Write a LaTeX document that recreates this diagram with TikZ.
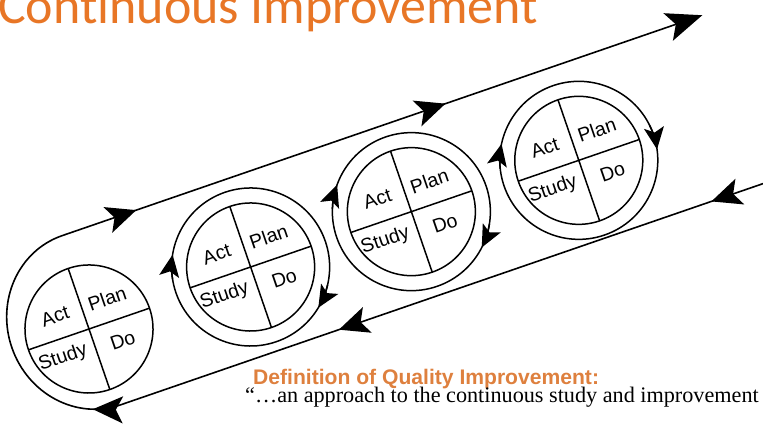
\documentclass[tikz,border=0pt]{standalone}
\usepackage{fontspec}
\setmainfont{Liberation Serif}
\setsansfont{Liberation Sans}
\newfontfamily\titlefont[Ligatures=NoCommon]{Carlito}
\usetikzlibrary{positioning,arrows.meta,decorations.markings}
\definecolor{qiorange}{RGB}{232,118,38}
\definecolor{qihead}{RGB}{222,128,62}

\begin{document}
\begin{tikzpicture}[x=1pt, y=1pt,
                    pdca/.style={circle, draw=black, line width=1.5pt, minimum size=128pt, inner sep=0pt, outer sep=0pt, transform shape},
                    quad/.style={font=\sffamily\fontsize{19.5}{19.5}\selectfont, inner sep=0pt, transform shape},
                    ringline/.style={draw=black, line width=1.5pt},
                    loopline/.style={draw=black, line width=1.6pt},
                    bigtip/.tip={Stealth[length=30pt, width=27pt, inset=7pt]},
                    endtip/.tip={Stealth[length=36pt, width=29pt, inset=8pt]},
                    smalltip/.tip={Stealth[length=22pt, width=20pt, inset=5pt]}
                ]
                    \useasboundingbox (0,0) rectangle (763,427);
                    \clip (0,0) rectangle (763,427);

                    \node[anchor=base west, inner sep=0pt, text=qiorange, font=\titlefont\fontsize{52}{52}\selectfont] (title) at (-2,403) {Continuous Improvement};
                    \node[anchor=base west, inner sep=0pt, text=qihead, font=\sffamily\bfseries\fontsize{21.1}{21.1}\selectfont] (defhead) at (253,42) {Definition of Quality Improvement:};
                    \node[anchor=base west, inner sep=0pt, font=\fontsize{22.2}{22.2}\selectfont] (defquote) at (245,24) {“…an approach to the continuous study and improvement};

                    \begin{scope}[shift={(89,98)}, rotate=19]
                    \node[pdca] (c1) at (0,0) {};
                    \node[pdca] (c2) at (173,6) {};
                    \node[pdca] (c3) at (343,6) {};
                    \node[pdca] (c4) at (518,0) {};

                    \draw[ringline] (c1.north) -- (c1.south) (c1.west) -- (c1.east);
                    \draw[ringline] (c2.north) -- (c2.south) (c2.west) -- (c2.east);
                    \draw[ringline] (c3.north) -- (c3.south) (c3.west) -- (c3.east);
                    \draw[ringline] (c4.north) -- (c4.south) (c4.west) -- (c4.east);

                    \node[quad] (plan1) at (27,23) {Plan};
                    \node[quad] (act1) at (-28,23) {Act};
                    \node[quad] (study1) at (-34,-19) {Study};
                    \node[quad] (do1) at (28,-22) {Do};
                    \node[quad] (plan2) at (200,29) {Plan};
                    \node[quad] (act2) at (145,29) {Act};
                    \node[quad] (study2) at (139,-13) {Study};
                    \node[quad] (do2) at (201,-16) {Do};
                    \node[quad] (plan3) at (370,29) {Plan};
                    \node[quad] (act3) at (315,29) {Act};
                    \node[quad] (study3) at (309,-13) {Study};
                    \node[quad] (do3) at (371,-16) {Do};
                    \node[quad] (plan4) at (545,23) {Plan};
                    \node[quad] (act4) at (490,23) {Act};
                    \node[quad] (study4) at (484,-19) {Study};
                    \node[quad] (do4) at (546,-22) {Do};

                    % rings with their two arrows
                    \draw[ringline] (c2.center) circle[radius=79];
                    \draw[ringline] (c3.center) circle[radius=79];
                    \draw[ringline] (c4.center) circle[radius=79];
                    \draw[ringline, -{smalltip}] (c2.center) ++(170:79) arc[start angle=170, end angle=152, radius=79];
                    \draw[ringline, -{smalltip}] (c2.center) ++(-32:79) arc[start angle=-32, end angle=-50, radius=79];
                    \draw[ringline, -{smalltip}] (c3.center) ++(159:79) arc[start angle=159, end angle=141, radius=79];
                    \draw[ringline, -{smalltip}] (c3.center) ++(-28:79) arc[start angle=-28, end angle=-46, radius=79];
                    \draw[ringline, -{smalltip}] (c4.center) ++(167:79) arc[start angle=167, end angle=149, radius=79];
                    \draw[ringline, -{smalltip}] (c4.center) ++(7:79) arc[start angle=7, end angle=-11, radius=79];

                    % the big loop
                    \coordinate (bstart) at (720,-82);
                    \coordinate (bend) at (5,-82);
                    \coordinate (tend) at (682,97);
                    \draw[loopline, -{endtip},
                          postaction={decorate},
                          decoration={markings,
                                      mark=at position 90pt with {\arrow{bigtip}},
                                      mark=at position 484pt with {\arrow{bigtip}},
                                      mark=at position 743pt with {\arrow{bigtip}},
                                      mark=at position 1066pt with {\arrow{bigtip}},
                                      mark=at position 1393pt with {\arrow{bigtip}}}]
                        (bstart) -- (bend) arc[start angle=270, end angle=90, x radius=84, y radius=89.5] -- (tend);
                    \end{scope}
                \end{tikzpicture}
\end{document}
